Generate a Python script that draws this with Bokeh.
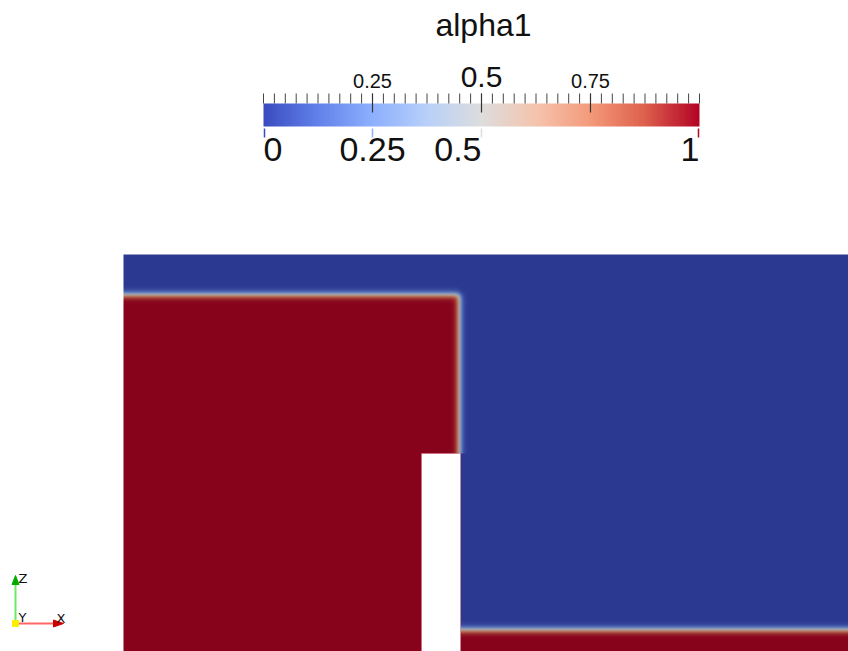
import numpy as np
from bokeh.plotting import figure
from bokeh.models import Range1d, LinearColorMapper
from bokeh.core.properties import value
from bokeh.embed import file_html
from bokeh.resources import INLINE

# ---- colour map ("Cool to Warm") anchors ----
cmap_pos = [0.0, 0.125, 0.25, 0.375, 0.5, 0.625, 0.75, 0.875, 1.0]
cmap_rgb = [(59, 76, 192), (98, 130, 234), (141, 176, 254), (184, 208, 249),
            (221, 221, 221), (245, 196, 173), (244, 154, 123), (222, 96, 77),
            (180, 4, 38)]

# ---- colour bar texts / ticks ----
bar_title = "alpha1"
top_tick_values = [0.25, 0.5, 0.75]
top_tick_labels = ["0.25", "0.5", "0.75"]
top_tick_sizes = [20, 30, 20]
bottom_tick_values = [0.0, 0.25, 0.5, 1.0]
bottom_tick_labels = ["0", "0.25", "0.5", "1"]
bottom_tick_align = ["left", "center", "right", "right"]
minor_tick_count = 41

# ---- alpha1 field geometry (view units, y up) ----
domain_x = [123, 848]
domain_y = [0, 397]
obstacle_x = [421, 460]
obstacle_top = 198
column_front = 459
column_height = 357
layer_height = 22
interface_width = 3.5
shading = 0.75

FONT = value("Liberation Sans")
BASE_SHIFT = 0.4  # empirical baseline correction (fraction of font size)


def make_palette(scale):
    t = np.linspace(0, 1, 256)
    rgb = np.array(cmap_rgb, float)
    chans = [np.clip(np.interp(t, cmap_pos, rgb[:, k]) * scale, 0, 255) for k in range(3)]
    return ["#%02x%02x%02x" % (int(round(r)), int(round(g)), int(round(b)))
            for r, g, b in zip(*chans)]


def cmap_color(v):
    rgb = np.array(cmap_rgb, float)
    c = [int(round(np.interp(v, cmap_pos, rgb[:, k]))) for k in range(3)]
    return "#%02x%02x%02x" % tuple(c)


bar_palette = make_palette(1.0)
field_palette = make_palette(shading)

p = figure(width=848, height=651, x_range=Range1d(0, 848), y_range=Range1d(0, 651),
           output_backend="svg", toolbar_location=None, min_border=0,
           x_axis_location=None, y_axis_location=None)
p.grid.visible = False
p.outline_line_color = None
p.background_fill_color = "white"
p.border_fill_color = "white"

# ---- field ----
nx = domain_x[1] - domain_x[0]
ny = domain_y[1] - domain_y[0]
xs = domain_x[0] + np.arange(nx) + 0.5
ys = domain_y[0] + np.arange(ny) + 0.5
X, Y = np.meshgrid(xs, ys)


def smooth(d):
    return 0.5 * (1 + np.tanh(d / interface_width))


col = smooth(column_front - X) * smooth(column_height - Y)
col[(X > obstacle_x[1]) & (Y < obstacle_top)] = 0.0
layer = smooth(layer_height - Y) * (X > obstacle_x[1])
field = np.maximum(col, layer).astype(np.float32)

p.image(image=[field], x=domain_x[0], y=domain_y[0], dw=nx, dh=ny,
        color_mapper=LinearColorMapper(palette=field_palette, low=0, high=1))

p.quad(left=obstacle_x[0], right=obstacle_x[1], bottom=domain_y[0] - 5, top=obstacle_top,
       fill_color="white", line_color="#d9607a", line_alpha=0.5, line_width=1)

# ---- colour bar ----
bx0, bx1 = 263, 699
by0, by1 = 525, 548
bw = bx1 - bx0
p.image(image=[np.linspace(0, 1, 256)[None, :]], x=bx0, y=by0, dw=bw, dh=by1 - by0,
        color_mapper=LinearColorMapper(palette=bar_palette, low=0, high=1))

minor_x = [bx0 + v * bw for v in np.linspace(0, 1, minor_tick_count)]
p.segment(x0=minor_x, y0=[by1] * len(minor_x), x1=minor_x, y1=[by1 + 10] * len(minor_x),
          line_color="#444444", line_width=1)
major_x = [bx0 + v * bw for v in top_tick_values]
p.segment(x0=major_x, y0=[by1 - 9] * 3, x1=major_x, y1=[by1 + 10] * 3,
          line_color="#333333", line_width=1.2)

bot_x = [bx0 + v * bw for v in bottom_tick_values]
bot_x[0] = bx0 + 1
bot_x[-1] = bx1 - 1
p.segment(x0=bot_x, y0=[by0 - 11] * 4, x1=bot_x, y1=[by0 - 2] * 4,
          line_color=[cmap_color(v) for v in bottom_tick_values], line_width=1.5)


def label(x, y, txt, size, align="center", font=FONT):
    p.text(x=[x], y=[y + BASE_SHIFT * size], text=[txt], text_font=font,
           text_font_size=f"{size}px", text_align=align, text_baseline="alphabetic",
           text_color="#111111")


for v, lab, sz in zip(top_tick_values, top_tick_labels, top_tick_sizes):
    label(bx0 + v * bw, 563, lab, sz)

for v, lab, al in zip(bottom_tick_values, bottom_tick_labels, bottom_tick_align):
    label(bx0 + v * bw, 488, lab, 34, al)

label(483, 614, bar_title, 32)

# ---- orientation triad ----
ox, oy = 15, 28
p.segment(x0=[ox], y0=[oy], x1=[ox], y1=[oy + 40], line_color="#66ee66", line_width=2)
p.segment(x0=[ox], y0=[oy], x1=[ox + 40], y1=[oy], line_color="#ff6666", line_width=2)
p.patch(x=[ox - 3.5, ox + 3.5, ox], y=[oy + 39, oy + 39, oy + 48], fill_color="#00aa00", line_color="#00aa00")
p.patch(x=[ox + 38, ox + 38, ox + 48], y=[oy - 3.5, oy + 3.5, oy], fill_color="#cc0000", line_color="#cc0000")
p.rect(x=[ox], y=[oy], width=6, height=6, fill_color="#ffee00", line_color="#ffee00")
tri_font = value("DejaVu Sans")
label(ox + 3, oy + 40, "Z", 13, "left", tri_font)
label(ox + 3, oy + 1, "Y", 13, "left", tri_font)
label(ox + 41, oy, "X", 13, "left", tri_font)

open("out.html", "w").write(file_html(p, INLINE))
